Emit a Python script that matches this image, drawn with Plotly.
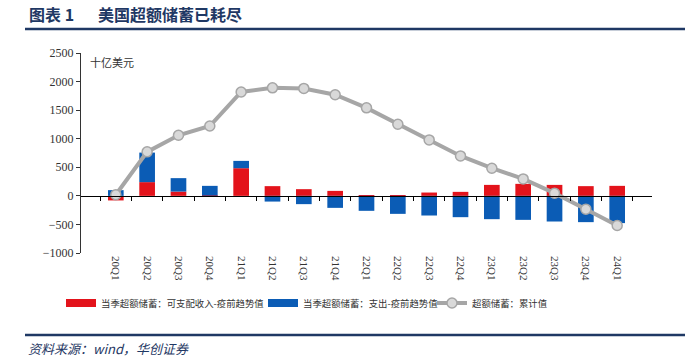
import plotly.graph_objects as go

quarters = ["20Q1","20Q2","20Q3","20Q4","21Q1","21Q2","21Q3","21Q4",
            "22Q1","22Q2","22Q3","22Q4","23Q1","23Q2","23Q3","23Q4","24Q1"]
income_excess = [-80, 240, 75, 5, 484, 170, 117, 87, 10, 5, 58, 70, 192, 210, 192, 170, 175]
spending_excess = [100, 517, 235, 170, 128, -100, -145, -210, -262, -315, -344, -373, -408, -420, -449, -460, -477]
cumulative = [20, 770, 1060, 1222, 1818, 1890, 1880, 1770, 1540, 1253, 979, 699, 484, 297, 47, -233, -519]
y_ticks = [-1000, -500, 0, 500, 1000, 1500, 2000, 2500]

L, R, T, B = 81, 652, 53, 253
FW, FH = 685, 361
def px(x): return (x - L) / (R - L)
def py(y): return (B - y) / (B - T)

navy = "#1F3864"
red = "#E3131B"
blue = "#0B5CB5"
fig = go.Figure()
fig.add_trace(go.Bar(x=quarters, y=income_excess, name="当季超额储蓄：可支配收入-疫前趋势值",
                     marker=dict(color=red, line=dict(width=0)), width=0.5, showlegend=False))
fig.add_trace(go.Bar(x=quarters, y=spending_excess, name="当季超额储蓄：支出-疫前趋势值",
                     marker=dict(color=blue, line=dict(width=0)), width=0.5, showlegend=False))
fig.add_trace(go.Scatter(x=quarters, y=cumulative, name="超额储蓄：累计值", mode="lines+markers",
                         line=dict(color="#A6A6A6", width=4), legend="legend3",
                         marker=dict(size=10, color="#D9D9D9", line=dict(color="#A6A6A6", width=1.5))))
# legend swatches (wide rectangles like the original)
fig.add_trace(go.Scatter(x=[None], y=[None], mode="lines", name="当季超额储蓄：可支配收入-疫前趋势值",
                         line=dict(color=red, width=8), legend="legend"))
fig.add_trace(go.Scatter(x=[None], y=[None], mode="lines", name="当季超额储蓄：支出-疫前趋势值",
                         line=dict(color=blue, width=8), legend="legend2"))
fig.add_trace(go.Scatter(x=quarters, y=[None] * len(quarters), xaxis="x2", showlegend=False,
                         hoverinfo="skip", mode="lines"))

legfont = dict(family="Noto Sans CJK SC", size=9.4, color="#333333")
def leg(xpage):
    return dict(orientation="h", x=px(xpage), y=py(303), xanchor="left", yanchor="middle",
                font=legfont, itemwidth=30, bgcolor="rgba(0,0,0,0)")

fig.update_layout(
    width=FW, height=FH, barmode="relative",
    margin=dict(l=L, r=FW - R, t=T, b=FH - B),
    plot_bgcolor="white", paper_bgcolor="white",
    font=dict(family="Liberation Serif, Noto Sans CJK SC", size=11, color="#333333"),
    showlegend=True,
    legend=leg(61), legend2=leg(263), legend3=leg(432),
    xaxis=dict(type="category", tickangle=90, showline=False, ticks="", showgrid=False,
               tickfont=dict(family="Liberation Serif", size=11, color="#333333"),
               ticklabelstandoff=2),
    xaxis2=dict(type="category", overlaying="x", matches="x", anchor="free", position=1000 / 3500,
                showline=True, linecolor="#000000", linewidth=1, ticks="outside", ticklen=4,
                tickcolor="#000000", tickson="boundaries", showticklabels=False, showgrid=False),
    yaxis=dict(range=[-1000, 2500], tickvals=y_ticks, showgrid=False, zeroline=False,
               showline=True, linecolor="#333333", linewidth=1, ticks="outside", ticklen=4,
               tickcolor="#333333", tickfont=dict(family="Liberation Serif", size=12, color="#333333")),
)

fig.add_shape(type="line", xref="paper", yref="paper", x0=px(25), x1=px(685), y0=py(29), y1=py(29),
              line=dict(color=navy, width=2.5))
fig.add_shape(type="line", xref="paper", yref="paper", x0=px(25), x1=px(685), y0=py(335), y1=py(335),
              line=dict(color=navy, width=2.5))
fig.add_annotation(xref="paper", yref="paper", x=px(27), y=py(14), xanchor="left", yanchor="middle",
                   text="<b>图表 1</b>", showarrow=False,
                   font=dict(family="Noto Sans CJK SC", size=16, color=navy))
fig.add_annotation(xref="paper", yref="paper", x=px(96), y=py(14), xanchor="left", yanchor="middle",
                   text="<b>美国超额储蓄已耗尽</b>", showarrow=False,
                   font=dict(family="Noto Sans CJK SC", size=16, color=navy))
fig.add_annotation(xref="paper", yref="paper", x=px(26), y=py(348), xanchor="left", yanchor="middle",
                   text="<i>资料来源：wind，华创证券</i>", showarrow=False,
                   font=dict(family="Noto Sans CJK SC", size=13, color=navy))
fig.add_annotation(xref="paper", yref="paper", x=px(88), y=py(62), xanchor="left", yanchor="middle",
                   text="十亿美元", showarrow=False,
                   font=dict(family="Noto Sans CJK SC", size=11, color="#333333"))

fig.write_html("out.html", config={"displayModeBar": False},
               post_script="document.body.style.margin='0';")
